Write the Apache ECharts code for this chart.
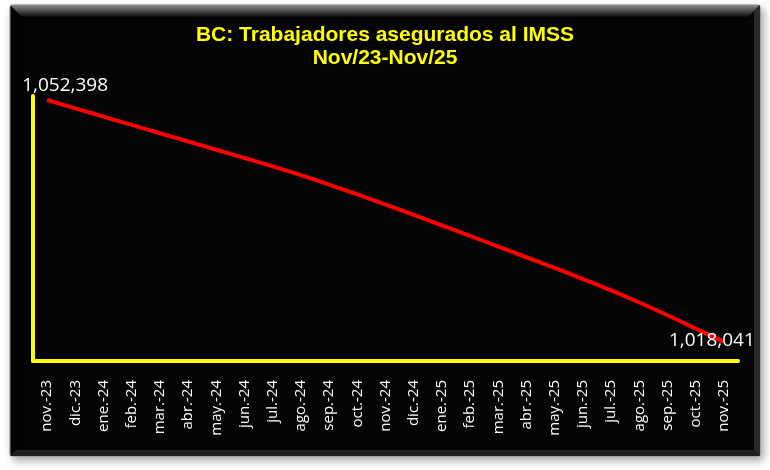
<!DOCTYPE html>
<html>
<head>
<meta charset="utf-8">
<script src="https://cdn.jsdelivr.net/npm/echarts@6/dist/echarts.min.js"></script>
<style>
html,body{margin:0;padding:0;background:#ffffff;}
#chart{width:770px;height:470px;}
</style>
</head>
<body>
<div id="chart"></div>
<script>
const titleLines = ['BC: Trabajadores asegurados al IMSS', 'Nov/23-Nov/25'];
const categories = ['nov.-23','dic.-23','ene.-24','feb.-24','mar.-24','abr.-24','may.-24','jun.-24','jul.-24','ago.-24','sep.-24','oct.-24','nov.-24','dic.-24','ene.-25','feb.-25','mar.-25','abr.-25','may.-25','jun.-25','jul.-25','ago.-25','sep.-25','oct.-25','nov.-25'];
const workers = [1052398, 1051218, 1050038, 1048858, 1047678, 1046503, 1045333, 1044163, 1042973, 1041723, 1040393, 1038993, 1037553, 1036083, 1034593, 1033093, 1031583, 1030063, 1028543, 1026973, 1025353, 1023633, 1021823, 1019943, 1018041];
const labelledIdx = [0, workers.length - 1];

const fmt = v => v.toLocaleString('en-US');
const labelOffsets = {0: [18, -14]};
labelOffsets[workers.length - 1] = [-12, -1];

const seriesData = workers.map((v, i) => {
  if (labelledIdx.indexOf(i) >= 0) {
    return {
      value: v,
      label: {
        show: true,
        position: 'inside',
        offset: labelOffsets[i],
        formatter: p => fmt(p.value),
        color: '#ffffff',
        fontFamily: 'Open Sans',
        fontSize: 19
      }
    };
  }
  return v;
});

const chart = echarts.init(document.getElementById('chart'), null, {renderer: 'canvas'});
chart.setOption({
  backgroundColor: '#ffffff',
  animation: false,
  graphic: [
    {type: 'rect', z: -10, shape: {x: 10, y: 5, width: 750, height: 451, r: 2},
     style: {fill: '#040404', stroke: '#8a8a8a', lineWidth: 1, shadowBlur: 8, shadowColor: 'rgba(0,0,0,0.35)', shadowOffsetX: 3, shadowOffsetY: 4}},
    {type: 'polygon', z: -9, shape: {points: [[10,5],[760,5],[748,17],[22,17]]},
     style: {fill: new echarts.graphic.LinearGradient(0,0,0,1,[{offset:0,color:'#8a8a8a'},{offset:1,color:'#0a0a0a'}])}},
    {type: 'polygon', z: -9, shape: {points: [[760,5],[760,456],[754,450],[754,11]]},
     style: {fill: '#2a2a2a'}},
    {type: 'polygon', z: -9, shape: {points: [[10,456],[760,456],[754,450],[16,450]]},
     style: {fill: '#1e1e1e'}}
  ],
  title: {
    text: titleLines.join('\n'),
    left: 'center',
    top: 24,
    padding: 0,
    textStyle: {
      color: '#FFFF00',
      fontFamily: 'Liberation Sans',
      fontWeight: 'bold',
      fontSize: 21,
      lineHeight: 23
    }
  },
  grid: {left: 33, right: 32, top: 96, bottom: 109, containLabel: false},
  xAxis: {
    type: 'category',
    data: categories,
    boundaryGap: true,
    axisLine: {onZero: false, lineStyle: {color: '#FFFF00', width: 4}},
    axisTick: {show: false},
    splitLine: {show: false},
    axisLabel: {
      rotate: 90,
      interval: 0,
      margin: 19,
      color: '#ffffff',
      fontFamily: 'Open Sans',
      fontSize: 15
    }
  },
  yAxis: {
    type: 'value',
    min: 1015330,
    max: 1052970,
    axisLine: {show: true, lineStyle: {color: '#FFFF00', width: 4}},
    axisTick: {show: false},
    axisLabel: {show: false},
    splitLine: {show: false}
  },
  series: [{
    type: 'line',
    data: seriesData,
    smooth: 0.4,
    showSymbol: true,
    symbol: 'circle',
    symbolSize: 0,
    itemStyle: {color: '#FF0000'},
    lineStyle: {color: '#FF0000', width: 4},
    z: 3
  }]
});
</script>
</body>
</html>
